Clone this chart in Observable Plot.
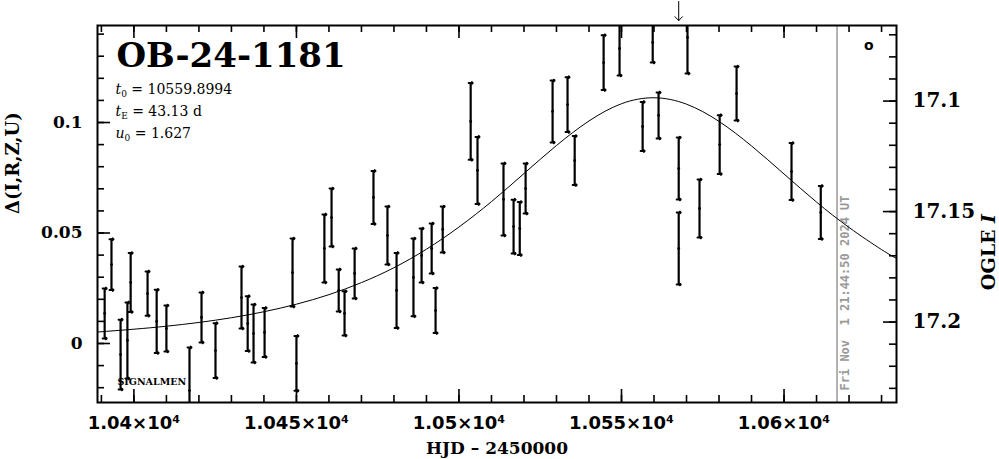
<!DOCTYPE html>
<html><head><meta charset="utf-8">
<script src="https://cdn.jsdelivr.net/npm/d3@7"></script>
<script src="https://cdn.jsdelivr.net/npm/@observablehq/plot@0.6"></script>
<style>html,body{margin:0;padding:0;background:#fff;overflow:hidden}svg{display:block}</style>
</head><body><div id="chart"></div>
<script>
// ---- data ----
const pointT = [10391.0,10393.1,10395.9,10398.0,10399.0,10404.2,10407.0,10410.0,10417.1,10420.8,
  10425.1,10433.1,10435.0,10436.8,10440.2,10448.8,10450.0,10458.6,10460.8,10463.0,
  10464.8,10467.9,10473.7,10478.0,10480.8,10486.0,10488.5,10491.6,10492.8,10495.0,
  10503.6,10505.7,10513.7,10516.8,10518.7,10520.5,10528.8,10533.4,10535.6,10544.5,
  10549.4,10556.5,10559.6,10561.4,10567.6,10567.6,10570.3,10574.0,10580.2,10585.4,
  10602.3,10611.3];
const pointD = [0.0136,0.0357,-0.0050,0.0014,0.0276,0.0226,0.0100,0.0068,-0.0213,0.0118,
  -0.0032,0.0208,0.0090,0.0045,0.0050,0.0321,-0.0090,0.0430,0.0570,0.0240,
  0.0136,0.0317,0.0661,0.0489,0.0240,0.0299,0.0398,0.0430,0.0149,0.0516,
  0.1005,0.0783,0.0652,0.0529,0.0520,0.0701,0.1050,0.1081,0.0828,0.1271,
  0.1335,0.0982,0.1362,0.1032,0.0792,0.0430,0.1385,0.0611,0.0900,0.1131,
  0.0778,0.0593];
const pointErr = [0.0113,0.0115,0.0158,0.0172,0.0133,0.0100,0.0143,0.0104,0.0195,0.0113,
  0.0124,0.0140,0.0124,0.0131,0.0111,0.0154,0.0124,0.0154,0.0131,0.0095,
  0.0100,0.0113,0.0120,0.0131,0.0170,0.0176,0.0122,0.0113,0.0102,0.0104,
  0.0174,0.0152,0.0163,0.0122,0.0120,0.0113,0.0140,0.0124,0.0111,0.0124,
  0.0122,0.0111,0.0090,0.0104,0.0140,0.0163,0.0163,0.0131,0.0133,0.0122,
  0.0129,0.0120];
// model curve (t0 = 10559.8994, tE = 43.13 d, u0 = 1.627)
const modelT = [10388.8,10400,10410,10420,10430,10440,10450,10460,10470,10480,10490,10500,
  10510,10520,10530,10540,10550,10560,10570,10580,10590,10600,10610,10620,10630,10634.6];
const modelD = [0.0052,0.00647,0.00782,0.00952,0.01166,0.01437,0.01779,0.0221,0.02755,0.0343,
  0.04268,0.0527,0.0642,0.0769,0.0896,0.1007,0.1085,0.1112,0.1083,0.1005,0.0894,0.0767,
  0.0640,0.0525,0.0425,0.0385];

const xMajor = [10400,10450,10500,10550,10600];
const xTickLabels = ["1.04×10⁴","1.045×10⁴","1.05×10⁴","1.055×10⁴","1.06×10⁴"];
const yMajor = [0,0.05,0.1];
const yTickLabels = ["0","0.05","0.1"];
const magMajor = [17.1,17.15,17.2];
const magTickLabels = ["17.1","17.15","17.2"];
const baseMag = 17.2097;

const titleText = "OB-24-1181";
const paramSym = ["t","t","u"];
const paramSub = ["0","E","0"];
const paramVal = ["10559.8994","43.13 d","1.627"];
const nowT = 10616.3;
const nowLabel = "Fri Nov\u00a0\u00a01 21:44:50 2024 UT";
const arrowT = 10567.6;

// ---- layout ----
const W = 999, H = 459, mL = 97, mR = 103, mT = 25, mB = 57;
const xDom = [10388.8, 10634.6], yDom = [-0.0267, 0.1439];
const kx = (xDom[1]-xDom[0])/(W-mL-mR), ky = (yDom[1]-yDom[0])/(H-mT-mB);
const xMinor = d3.range(10390, 10631, 10);
const yMinor = d3.range(-2, 15).map(i => i/100);
const magMinor = d3.range(1707, 1724).map(i => i/100);
const minorL = 7, majorL = 13;

const pts = pointT.map((t,i) => ({t, d: pointD[i], e: pointErr[i]}));
const model = modelT.map((t,i) => ({t, d: modelD[i]}));
const params = paramSym.map((s,i) => `${s}|${paramSub[i]}|${paramVal[i]}`);

const serif = "DejaVu Serif";
const ticks = (len) => [
  Plot.ruleX(len === majorL ? xMajor : xMinor, {x: d=>d, y1: yDom[0], y2: yDom[0] + len*ky, strokeWidth: 1.6}),
  Plot.ruleX(len === majorL ? xMajor : xMinor, {x: d=>d, y1: yDom[1], y2: yDom[1] - len*ky, strokeWidth: 1.6}),
  Plot.ruleY(len === majorL ? yMajor : yMinor, {y: d=>d, x1: xDom[0], x2: xDom[0] + len*kx, strokeWidth: 1.6}),
  Plot.ruleY(len === majorL ? magMajor : magMinor, {y: m => baseMag - m, x1: xDom[1], x2: xDom[1] - len*kx, strokeWidth: 1.6})
];

const chart = Plot.plot({
  width: W, height: H,
  marginLeft: mL, marginRight: mR, marginTop: mT, marginBottom: mB,
  x: {domain: xDom, axis: null},
  y: {domain: yDom, axis: null},
  style: {fontFamily: serif, background: "white", color: "black"},
  marks: [
    ...ticks(minorL), ...ticks(majorL),
    Plot.ruleX([nowT], {x: d=>d, stroke: "#999", strokeWidth: 1.5}),
    Plot.text([nowT], {x: d=>d, frameAnchor: "bottom", dx: 8, dy: -12, rotate: -90, textAnchor: "start",
      lineAnchor: "middle", text: () => nowLabel, fill: "#999", fontFamily: "DejaVu Sans Mono", fontWeight: "bold", fontSize: 12}),
    Plot.line(model, {x: "t", y: "d", curve: "natural", stroke: "black", strokeWidth: 1, clip: true}),
    Plot.ruleX(pts, {x: "t", y1: d => d.d - d.e, y2: d => d.d + d.e, stroke: "black", strokeWidth: 2.2, clip: true}),
    Plot.vector(pts, {x: "t", y: d => d.d + d.e, length: 4, rotate: 90, anchor: "middle", shape: "arrow", stroke: "black", strokeWidth: 2, clip: true}),
    Plot.vector(pts, {x: "t", y: d => d.d - d.e, length: 4, rotate: 90, anchor: "middle", shape: "arrow", stroke: "black", strokeWidth: 2, clip: true}),
    Plot.dot(pts, {x: "t", y: "d", r: 1.4, fill: "black", stroke: null, clip: true}),
    Plot.frame({stroke: "black", strokeWidth: 2}),
    // tick labels
    Plot.text(yMajor, {y: d=>d, frameAnchor: "left", dx: -15, textAnchor: "end", lineAnchor: "middle", text: (d,i) => yTickLabels[i],
      fontSize: 17, fontWeight: "bold", fontFamily: serif}),
    Plot.text(magMajor, {y: m => baseMag - m, frameAnchor: "right", dx: 16, textAnchor: "start", lineAnchor: "middle", text: (d,i) => magTickLabels[i],
      fontSize: 20, fontWeight: "bold", fontFamily: serif}),
    Plot.text(xMajor, {x: d=>d, frameAnchor: "bottom", dy: 21, lineAnchor: "middle", text: (d,i) => xTickLabels[i],
      fontSize: 18, fontWeight: "bold", fontFamily: "DejaVu Sans"}),
    // axis titles
    Plot.text(["HJD \u2013 2450000"], {frameAnchor: "bottom", dy: 46, lineAnchor: "middle", text: d=>d, fontSize: 17, fontWeight: "bold", fontFamily: serif}),
    Plot.text(["\u0394(I,R,Z,U)"], {frameAnchor: "left", dx: -84, rotate: -90, lineAnchor: "middle", text: d=>d, fontSize: 18, fontWeight: "bold", fontFamily: serif}),
    Plot.text(["OGLE |I"], {frameAnchor: "right", dx: 92, rotate: -90, lineAnchor: "middle", text: d=>d, fontSize: 19, fontWeight: "bold", fontFamily: serif}),
    // annotations
    Plot.text([titleText], {frameAnchor: "top-left", dx: 19, dy: 31, textAnchor: "start", lineAnchor: "middle", text: d=>d, fontSize: 34, fontWeight: "bold", fontFamily: serif}),
    ...params.map((p,i) => Plot.text([p], {frameAnchor: "top-left", dx: 18, dy: 64 + i*22, textAnchor: "start", lineAnchor: "middle", text: d=>d,
      fontSize: 14, fontFamily: serif})),
    Plot.text(["SIGNALMEN"], {frameAnchor: "bottom-left", dx: 20, dy: -21, textAnchor: "start", lineAnchor: "middle", text: d=>d, fontSize: 9.5, fontWeight: "bold", fontFamily: serif}),
    Plot.text(["o"], {frameAnchor: "top-right", dx: -23, dy: 20, lineAnchor: "middle", text: d=>d, fontSize: 14, fontWeight: "bold", fontFamily: "DejaVu Sans"}),
    Plot.vector([arrowT], {x: d=>d, frameAnchor: "top", dy: -5, length: 19, rotate: 180, anchor: "end", stroke: "black", strokeWidth: 1})
  ]
});

d3.select(chart).selectAll("text").each(function() {
  const content = this.textContent;
  if (!content.includes("|")) return;
  const parts = content.split("|");
  const t = d3.select(this); t.text(null);
  if (parts.length === 3) {
    t.append("tspan").attr("font-style", "italic").text(parts[0]);
    t.append("tspan").attr("font-size", "9px").attr("dy", "3").text(parts[1]);
    t.append("tspan").attr("dy", "-3").text(" = " + parts[2]);
  } else {
    t.append("tspan").text(parts[0]);
    t.append("tspan").attr("font-style", "italic").text(parts[1]);
  }
});
document.getElementById("chart").appendChild(chart);
</script>
</body></html>
